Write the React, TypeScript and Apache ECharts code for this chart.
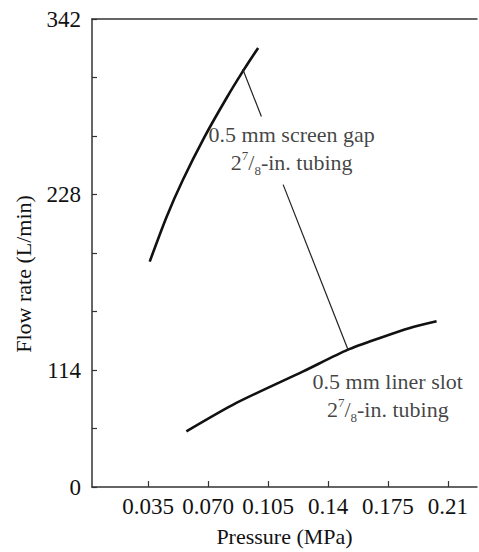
import React, { useEffect, useRef } from "react";
import * as echarts from "echarts";

const pressureScreen = [0.0359, 0.0458, 0.0553, 0.068, 0.0812, 0.0909, 0.0992];
const flowScreen = [184.4, 213.6, 237.6, 265.6, 291.5, 309.1, 323.2];
const pressureLiner = [0.0573, 0.0865, 0.1255, 0.1517, 0.1703, 0.1878, 0.2034];
const flowLiner = [74.1, 92.6, 113.1, 127.2, 134.8, 141.3, 145.6];

const xTickValues = [0.035, 0.07, 0.105, 0.14, 0.175, 0.21];
const xTickLabels = ["0.035", "0.070", "0.105", "0.14", "0.175", "0.21"];
const yTickValues = [342, 228, 114, 38];
const yTickLabels = ["342", "228", "114", "0"];

const leaderTop = [[0.0902, 309.5], [0.1011, 278.7]];
const leaderBottom = [[0.1138, 234.4], [0.1517, 127.2]];

const annotationPos = [[0.1188, 257.8], [0.1749, 97.3]];
const annotationTitles = ["0.5 mm screen gap", "0.5 mm liner slot"];

const FONT = "Liberation Serif, Times New Roman, serif";
const INK = "#111";

export default function App() {
  const ref = useRef<HTMLDivElement>(null);
  useEffect(() => {
    if (!ref.current) return;
    const chart = echarts.init(ref.current, null, { renderer: "svg" });
    const zip = (xs: number[], ys: number[]) => xs.map((x, i) => [x, ys[i]]);
    const rich = {
      main: { fontFamily: FONT, fontSize: 22, color: INK, lineHeight: 28 },
      sup: { fontFamily: FONT, fontSize: 13, color: INK, verticalAlign: "top", lineHeight: 28, padding: [0, 0, 8, 0] },
      sub: { fontFamily: FONT, fontSize: 13, color: INK, verticalAlign: "bottom", lineHeight: 28, padding: [8, 0, 0, 0] },
    };
    chart.setOption({
      animation: false,
      textStyle: { fontFamily: FONT },
      grid: { left: 92, top: 19, right: 2, bottom: 65 },
      xAxis: [
        {
          type: "value",
          min: 0.0022,
          max: 0.227,
          name: "Pressure (MPa)",
          nameLocation: "middle",
          nameGap: 38,
          nameTextStyle: { fontFamily: FONT, fontSize: 22, color: INK },
          axisLine: { show: true, lineStyle: { color: "#333", width: 1.5 } },
          axisTick: { show: true, inside: true, length: 6, customValues: xTickValues, lineStyle: { color: "#333", width: 1.2 } },
          axisLabel: {
            customValues: xTickValues,
            margin: 8,
            fontFamily: FONT,
            fontSize: 23,
            color: INK,
            formatter: (v: number) => {
              const i = xTickValues.findIndex((t) => Math.abs(t - v) < 1e-6);
              return i >= 0 ? xTickLabels[i] : "";
            },
          },
          splitLine: { show: false },
        },
        {
          type: "value",
          position: "top",
          min: 0.0022,
          max: 0.227,
          axisLine: { show: true, onZero: false, lineStyle: { color: "#333", width: 1.5 } },
          axisTick: { show: false },
          axisLabel: { show: false },
          splitLine: { show: false },
        },
      ],
      yAxis: {
        type: "value",
        min: 38,
        max: 342,
        interval: 38,
        axisLine: { show: true, lineStyle: { color: "#333", width: 1.5 } },
        axisTick: { show: true, inside: true, length: 5, lineStyle: { color: "#333", width: 1.2 } },
        axisLabel: {
          margin: 11,
          fontFamily: FONT,
          fontSize: 23,
          color: INK,
          formatter: (v: number) => {
            const i = yTickValues.indexOf(Math.round(v));
            return i >= 0 ? yTickLabels[i] : "";
          },
        },
        splitLine: { show: false },
      },
      graphic: [
        {
          type: "text",
          x: 23,
          y: 274,
          rotation: Math.PI / 2,
          style: {
            text: "Flow rate (L/min)",
            font: `22px ${FONT}`,
            fill: INK,
            align: "center",
            verticalAlign: "middle",
          },
        },
      ],
      series: [
        {
          type: "line",
          name: "0.5 mm screen gap",
          data: zip(pressureScreen, flowScreen),
          smooth: 0.3,
          symbol: "none",
          lineStyle: { color: "#111", width: 2.6 },
          silent: true,
        },
        {
          type: "line",
          name: "0.5 mm liner slot",
          data: zip(pressureLiner, flowLiner),
          smooth: 0.25,
          symbol: "none",
          lineStyle: { color: "#111", width: 2.6 },
          silent: true,
        },
        {
          type: "line",
          data: leaderTop,
          symbol: "none",
          lineStyle: { color: "#222", width: 1.2 },
          silent: true,
        },
        {
          type: "line",
          data: leaderBottom,
          symbol: "none",
          lineStyle: { color: "#222", width: 1.2 },
          silent: true,
        },
        {
          type: "scatter",
          data: annotationPos.map((p, i) => ({ value: p, name: annotationTitles[i] })),
          symbolSize: 0,
          silent: true,
          label: {
            show: true,
            position: "inside",
            formatter: (p: any) => `{main|${p.name}}\n{main|2}{sup|7}{main|/}{sub|8}{main|-in. tubing}`,
            rich,
          },
        },
      ],
    });
    return () => chart.dispose();
  }, []);
  return <div ref={ref} style={{ position: "absolute", left: 0, top: 0, width: 479, height: 552, background: "#fff" }} />;
}
